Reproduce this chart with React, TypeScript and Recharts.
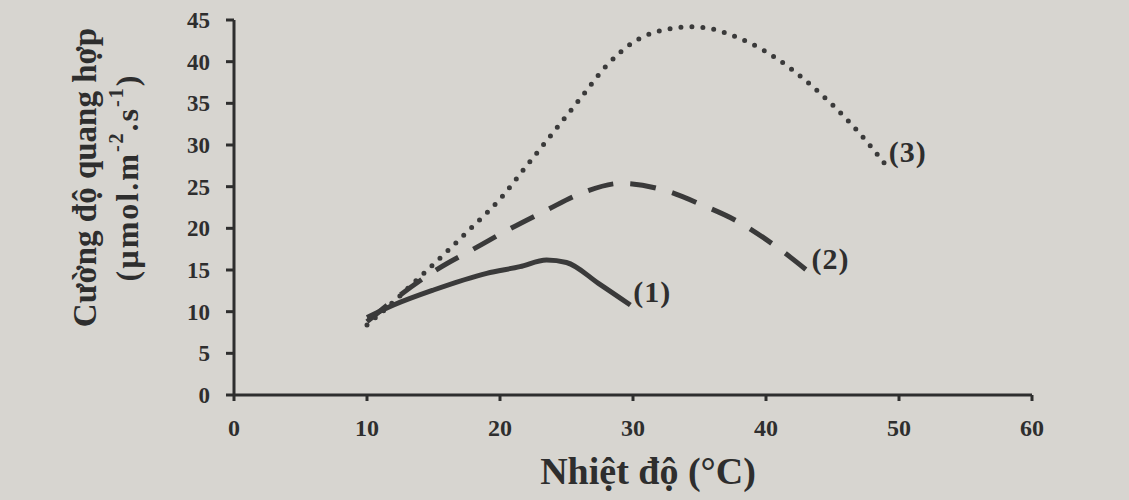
import { LineChart, Line, XAxis, YAxis, ReferenceDot, Label } from 'recharts';

// (1) solid
const temp1 = [10, 12, 15, 19, 21.5, 23.5, 25, 27.4, 29.8];
const rate1 = [9.3, 10.8, 12.6, 14.6, 15.4, 16.2, 15.9, 13.4, 10.8];

// (2) dashed
const temp2 = [10, 12.5, 15.4, 18.1, 20.7, 23.4, 26.1, 29.1, 32.3, 35.2, 37.9, 40.6, 43.2];
const rate2 = [8.8, 12, 15.2, 17.6, 19.9, 22.1, 24.2, 25.4, 24.6, 22.8, 20.8, 18, 14.8];

// (3) dotted
const temp3 = [10, 12, 14, 16, 18, 20, 22, 24, 26, 28, 30, 32, 34.5, 36, 38, 40, 42, 44, 46, 48, 49];
const rate3 = [8.4, 11.2, 14.2, 17.2, 20.3, 23.5, 27.5, 31.5, 35.5, 39.5, 42.3, 43.7, 44.2, 43.9, 42.8, 41.2, 39, 36.3, 33.2, 29.6, 27.6];

const xTicks = [0, 10, 20, 30, 40, 50, 60];
const yTicks = [0, 5, 10, 15, 20, 25, 30, 35, 40, 45];
const curveNames = ['(1)', '(2)', '(3)'];

const toRows = (t: number[], v: number[]) => t.map((x, i) => ({ t: x, v: v[i] }));

const ink = '#2e2e2e';
const lineInk = '#3a3a3a';
const serif = '"Liberation Serif", "DejaVu Serif", serif';

const endLabel = (text: string) => (props: any) => {
    const vb = props.viewBox || {};
    return (
        <text x={vb.x + 3} y={vb.y - 3} fill={ink} fontFamily={serif} fontWeight="bold" fontSize={30} letterSpacing={1}>
            {text}
        </text>
    );
};

const YTitle = (props: any) => {
    const vb = props.viewBox;
    const cy = vb.y + vb.height / 2 - 30;
    const x1 = vb.x - 89;
    const x2 = vb.x - 47;
    return (
        <g fill={ink} fontFamily={serif} fontWeight="bold">
            <text x={x1} y={cy} transform={`rotate(-90 ${x1} ${cy})`} textAnchor="middle" dominantBaseline="central" fontSize={33}>
                Cường độ quang hợp
            </text>
            <text x={x2} y={cy} transform={`rotate(-90 ${x2} ${cy})`} textAnchor="middle" dominantBaseline="central" fontSize={32} letterSpacing={2}>
                (µmol.m<tspan fontSize={20} dy={-11}>-2</tspan>
                <tspan dy={11}>.s</tspan>
                <tspan fontSize={20} dy={-11}>-1</tspan>
                <tspan dy={11}>)</tspan>
            </text>
        </g>
    );
};

export default function App() {
    const s1 = toRows(temp1, rate1);
    const s2 = toRows(temp2, rate2);
    const s3 = toRows(temp3, rate3);
    const ends = [s1[s1.length - 1], s2[s2.length - 1], s3[s3.length - 1]];

    return (
        <div style={{ position: 'fixed', left: 0, top: 0, width: 1129, height: 500, background: '#d7d5d0' }}>
            <LineChart width={1129} height={500} margin={{ top: 20, right: 97, bottom: 75, left: 174 }}>
                <XAxis
                    type="number"
                    dataKey="t"
                    domain={[0, 60]}
                    ticks={xTicks}
                    allowDataOverflow
                    height={30}
                    stroke={ink}
                    strokeWidth={3}
                    tickSize={6}
                    tickMargin={18}
                    tick={{ fill: ink, fontFamily: serif, fontWeight: 'bold', fontSize: 24 }}
                >
                    <Label
                        value="Nhiệt độ (°C)"
                        position="bottom"
                        offset={32}
                        dx={15}
                        fill={ink}
                        fontFamily={serif}
                        fontWeight="bold"
                        fontSize={38}
                    />
                </XAxis>
                <YAxis
                    type="number"
                    dataKey="v"
                    domain={[0, 45]}
                    ticks={yTicks}
                    width={60}
                    stroke={ink}
                    strokeWidth={3}
                    tickSize={8}
                    tickMargin={16}
                    tick={{ fill: ink, fontFamily: serif, fontWeight: 'bold', fontSize: 23 }}
                    label={{ content: YTitle }}
                />
                <Line
                    data={s3}
                    dataKey="v"
                    type="monotone"
                    stroke={lineInk}
                    strokeWidth={5}
                    strokeDasharray="0 11"
                    strokeLinecap="round"
                    dot={false}
                    activeDot={false}
                    isAnimationActive={false}
                />
                <Line
                    data={s2}
                    dataKey="v"
                    type="monotone"
                    stroke={lineInk}
                    strokeWidth={5}
                    strokeDasharray="26 17"
                    dot={false}
                    activeDot={false}
                    isAnimationActive={false}
                />
                <Line
                    data={s1}
                    dataKey="v"
                    type="monotone"
                    stroke={lineInk}
                    strokeWidth={5}
                    strokeLinejoin="round"
                    dot={false}
                    activeDot={false}
                    isAnimationActive={false}
                />
                {ends.map((p, i) => (
                    <ReferenceDot
                        key={curveNames[i]}
                        x={p.t}
                        y={p.v}
                        r={0}
                        fill="none"
                        stroke="none"
                        label={{ content: endLabel(curveNames[i]) }}
                    />
                ))}
            </LineChart>
        </div>
    );
}
